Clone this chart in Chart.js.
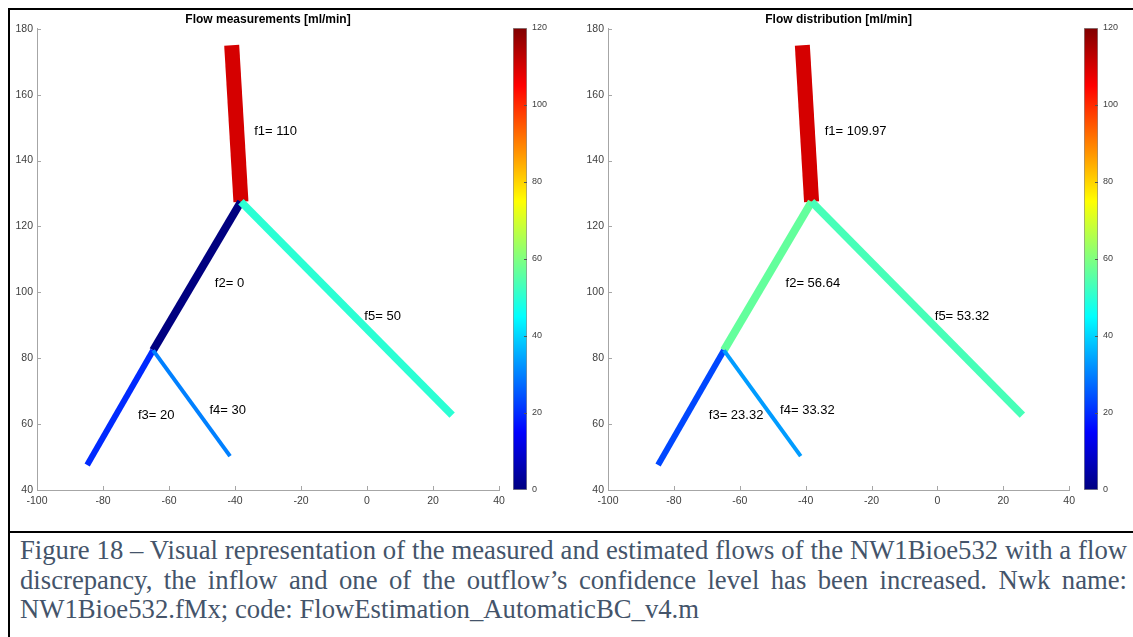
<!DOCTYPE html>
<html lang="en">
<head>
<meta charset="UTF-8">
<title>Flow measurements and flow distribution</title>
<script src="https://cdn.jsdelivr.net/npm/chart.js"></script>
<style>
  html, body { margin: 0; padding: 0; background: #fff; }
  #page { position: relative; width: 1133px; height: 637px; overflow: hidden; background: #fff; }
  canvas { position: absolute; top: 0; }
  .rule { position: absolute; background: #000; z-index: 5; }
  .caption {
    position: absolute; left: 20px; width: 1107px; top: 536px;
    font-family: "Liberation Serif", "Times New Roman", serif;
    font-size: 26.7px; line-height: 29.5px; color: #44546a;
  }
  .caption div { white-space: nowrap; }
  .caption .just { text-align: justify; text-align-last: justify; }
</style>
</head>
<body>
<div id="page">
  <canvas id="netMeasured" width="510" height="531" style="left:0px"></canvas>
  <canvas id="barMeasured" width="60" height="531" style="left:505px"></canvas>
  <canvas id="netEstimated" width="510" height="531" style="left:570px"></canvas>
  <canvas id="barEstimated" width="57" height="531" style="left:1076px"></canvas>

  <div class="rule" style="left:8px; top:8px; width:1125px; height:2px"></div>
  <div class="rule" style="left:8px; top:8px; width:2px; height:629px"></div>
  <div class="rule" style="left:8px; top:531px; width:1125px; height:2px"></div>

  <div class="caption">
    <div class="just">Figure 18 – Visual representation of the measured and estimated flows of the NW1Bioe532 with a flow</div>
    <div class="just">discrepancy, the inflow and one of the outflow’s confidence level has been increased. Nwk name:</div>
    <div>NW1Bioe532.fMx; code: FlowEstimation_AutomaticBC_v4.m</div>
  </div>
</div>

<script>
// vessel segments (start / end node coordinates)
const vessels = ['f1', 'f2', 'f3', 'f4', 'f5'];
const segX0 = [-41.0, -38.2, -64.8, -64.8, -38.2];
const segY0 = [175.0, 127.5, 82.4, 82.4, 127.5];
const segX1 = [-38.2, -64.8, -84.8, -41.5, 25.8];
const segY1 = [127.5, 82.4, 47.6, 50.3, 62.7];

// flows in ml/min
const measured = [110, 0, 20, 30, 50];
const estimated = [109.97, 56.64, 23.32, 33.32, 53.32];

// axis ticks
const xTicks = [-100, -80, -60, -40, -20, 0, 20, 40];
const yTicks = [40, 60, 80, 100, 120, 140, 160, 180];
const cbarTicks = [0, 20, 40, 60, 80, 100, 120];
const cbarMax = 120;

// drawing style
const lineWidths = [15, 8, 6, 4, 7.5];
const labelShift = { dx: 5.4, dy: -2.3 };
const axisGray = '#a6a6a6';
const tickText = '#404040';
const sans = 'Arial, "Liberation Sans", Helvetica, sans-serif';

// MATLAB-style jet colormap, t in [0,1]
function jet(t) {
  const c = v => Math.round(255 * Math.max(0, Math.min(1, 1.5 - Math.abs(4 * t - v))));
  return `rgb(${c(3)},${c(2)},${c(1)})`;
}

// short tick marks pointing into the plot
const inwardTicks = {
  id: 'inwardTicks',
  afterDraw(chart) {
    const { ctx, chartArea: a, scales: { x, y } } = chart;
    ctx.save();
    ctx.strokeStyle = axisGray;
    ctx.lineWidth = 1;
    ctx.beginPath();
    xTicks.forEach(v => {
      const px = Math.round(x.getPixelForValue(v)) + 0.5;
      ctx.moveTo(px, a.bottom);
      ctx.lineTo(px, a.bottom - 4);
    });
    yTicks.forEach(v => {
      const py = Math.round(y.getPixelForValue(v)) + 0.5;
      ctx.moveTo(a.left, py);
      ctx.lineTo(a.left + 4, py);
    });
    ctx.stroke();
    ctx.restore();
  }
};

function flowLabels(texts) {
  return {
    id: 'flowLabels',
    afterDatasetsDraw(chart) {
      const { ctx, scales: { x, y } } = chart;
      ctx.save();
      ctx.font = '13px ' + sans;
      ctx.fillStyle = '#000';
      ctx.textAlign = 'left';
      ctx.textBaseline = 'middle';
      texts.forEach((t, i) => {
        const mx = (segX0[i] + segX1[i]) / 2 + labelShift.dx;
        const my = (segY0[i] + segY1[i]) / 2 + labelShift.dy;
        ctx.fillText(`${vessels[i]}= ${t}`, x.getPixelForValue(mx), y.getPixelForValue(my));
      });
      ctx.restore();
    }
  };
}

function makeNetwork(id, title, values, texts, yWidth, rightPad) {
  const datasets = vessels.map((name, i) => ({
    label: name,
    data: [{ x: segX0[i], y: segY0[i] }, { x: segX1[i], y: segY1[i] }],
    showLine: true,
    borderColor: jet(values[i] / cbarMax),
    borderWidth: lineWidths[i],
    borderCapStyle: 'butt',
    pointRadius: 0,
    order: 5 - i
  }));

  new Chart(document.getElementById(id), {
    type: 'scatter',
    data: { datasets },
    options: {
      responsive: false,
      animation: false,
      layout: { padding: { left: 0, right: rightPad, top: 0, bottom: 0 } },
      plugins: {
        legend: { display: false },
        tooltip: { enabled: false },
        title: {
          display: true,
          text: title,
          fullSize: false,
          color: '#000',
          font: { family: sans, size: 12, weight: 'bold' },
          padding: { top: 12, bottom: 2.4 }
        }
      },
      scales: {
        x: {
          type: 'linear',
          min: -100,
          max: 40,
          afterBuildTicks: s => { s.ticks = xTicks.map(v => ({ value: v })); },
          grid: { display: false, drawTicks: false },
          border: { display: true, color: axisGray, width: 1 },
          ticks: { padding: 5, color: tickText, font: { family: sans, size: 10.5 }, maxRotation: 0, callback: v => String(v) },
          afterFit: s => { s.height = 41; }
        },
        y: {
          type: 'linear',
          min: 40,
          max: 180,
          afterBuildTicks: s => { s.ticks = yTicks.map(v => ({ value: v })); },
          grid: { display: false, drawTicks: false },
          border: { display: true, color: axisGray, width: 1 },
          ticks: { padding: 4, color: tickText, font: { family: sans, size: 10.5 }, callback: v => String(v) },
          afterFit: s => { s.width = yWidth; }
        }
      }
    },
    plugins: [inwardTicks, flowLabels(texts)]
  });
}

// vertical colour scale next to each plot
function makeColorbar(id) {
  const el = document.getElementById(id);
  const barW = 14, leftPad = 8;
  const cbarTickMarks = {
    id: 'cbarTickMarks',
    afterDraw(chart) {
      const { ctx, chartArea: a, scales: { y } } = chart;
      ctx.save();
      ctx.strokeStyle = '#555';
      ctx.lineWidth = 1;
      ctx.beginPath();
      cbarTicks.slice(1, -1).forEach(v => {
        const py = Math.round(y.getPixelForValue(v)) + 0.5;
        ctx.moveTo(a.right - 3, py);
        ctx.lineTo(a.right, py);
      });
      ctx.stroke();
      ctx.restore();
    }
  };

  new Chart(el, {
    type: 'bar',
    data: {
      labels: [''],
      datasets: [{
        data: [cbarMax],
        backgroundColor: c => {
          const a = c.chart.chartArea;
          if (!a) return '#000';
          const g = c.chart.ctx.createLinearGradient(0, a.bottom, 0, a.top);
          for (let i = 0; i <= 64; i++) g.addColorStop(i / 64, jet(i / 64));
          return g;
        },
        borderColor: '#8c8c8c',
        borderWidth: 1,
        borderSkipped: false,
        barPercentage: 1,
        categoryPercentage: 1
      }]
    },
    options: {
      responsive: false,
      animation: false,
      layout: { padding: { left: leftPad, top: 28, bottom: 41, right: 0 } },
      plugins: { legend: { display: false }, tooltip: { enabled: false } },
      scales: {
        x: { display: false },
        y: {
          position: 'right',
          min: 0,
          max: cbarMax,
          afterBuildTicks: s => { s.ticks = cbarTicks.map(v => ({ value: v })); },
          grid: { display: false, drawTicks: false },
          border: { display: false },
          ticks: { padding: 5, color: tickText, font: { family: sans, size: 9 }, callback: v => String(v) },
          afterFit: s => { s.width = el.width - leftPad - barW; }
        }
      }
    },
    plugins: [cbarTickMarks]
  });
}

makeNetwork('netMeasured', 'Flow measurements [ml/min]', measured, measured.map(v => String(v)), 37, 11);
makeNetwork('netEstimated', 'Flow distribution [ml/min]', estimated, estimated.map(v => v.toFixed(2)), 38, 9);
makeColorbar('barMeasured');
makeColorbar('barEstimated');
</script>
</body>
</html>
